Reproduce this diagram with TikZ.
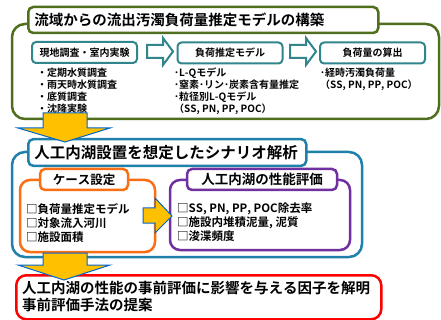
\documentclass[tikz,border=0pt]{standalone}
\usepackage{fontspec}
\setmainfont{Noto Sans CJK JP}[BoldFont={Noto Sans CJK JP Bold}, Kerning=Off]
\definecolor{cgreen}{RGB}{79,110,30}
\definecolor{cteal}{RGB}{49,133,140}
\definecolor{cblue}{RGB}{31,128,170}
\definecolor{corange}{RGB}{250,110,20}
\definecolor{cpurple}{RGB}{112,48,160}
\definecolor{cred}{RGB}{255,0,0}
\definecolor{cyellow}{RGB}{255,192,0}
\definecolor{carrowline}{RGB}{0,102,204}
\tikzset{
  outerbox/.style={draw, line width=2.5pt, rounded corners=13pt},
  titlebox/.style={draw, fill=white, line width=2.5pt, rounded corners=5pt, inner sep=6pt, align=left, anchor=west},
  subbox/.style={draw=cteal, fill=white, line width=2pt, rounded corners=4pt, minimum width=105pt, minimum height=21pt, inner sep=0pt, font=\bfseries\fontsize{10}{12}\selectfont},
  hollowarrow/.style={draw=cteal, fill=white, line width=2pt, line join=miter},
  blockarrow/.style={draw=carrowline, fill=cyellow, line width=1pt, line join=miter},
  listtext/.style={anchor=north west, inner sep=0pt, align=left, font=\bfseries\fontsize{10}{11.8}\selectfont},
  itemtext/.style={anchor=north west, inner sep=0pt, align=left, font=\bfseries\fontsize{11.5}{14}\selectfont},
}
\begin{document}
\begin{tikzpicture}[x=1pt,y=-1pt]
\useasboundingbox (0,0) rectangle (441,320);
\fill[white] (0,0) rectangle (441,320);

% --- green block ---
\draw[outerbox, draw=cgreen] (12,24) rectangle (439,119);
\node[titlebox, draw=cgreen, text width=338pt, minimum height=26pt, font=\bfseries\fontsize{14.5}{16}\selectfont] (gtitle) at (27,20) {流域からの流出汚濁負荷量推定モデルの構築};

\node[subbox] (s1) at (84.5,52.5) {現地調査・室内実験};
\node[subbox] (s2) at (230,53) {負荷推定モデル};
\node[subbox] (s3) at (372.5,53) {負荷量の算出};

\draw[hollowarrow] (147,45) -- (163,45) -- (163,38) -- (173,51.5) -- (163,65) -- (163,58) -- (147,58) -- cycle;
\draw[hollowarrow] (290,45) -- (306,45) -- (306,38) -- (316,51.5) -- (306,65) -- (306,58) -- (290,58) -- cycle;

\node[listtext] (l1) at (37,68) {・定期水質調査\\・雨天時水質調査\\・底質調査\\・沈降実験};
\node[listtext] (l2) at (174,68) {･L-Qモデル\\･窒素･リン･炭素含有量推定\\･粒径別L-Qモデル\\（SS, PN, PP, POC）};
\node[listtext] (l3) at (320,68) {･経時汚濁負荷量\\（SS, PN, PP, POC）};

% --- blue block ---
\draw[outerbox, draw=cblue] (12,152) rectangle (362,257);
\node[titlebox, draw=cblue, text width=266pt, minimum height=25pt, font=\bfseries\fontsize{15.5}{17}\selectfont] (btitle) at (27,152.5) {人工内湖設置を想定したシナリオ解析};

\draw[outerbox, draw=corange, rounded corners=10pt] (20,180) rectangle (155,252);
\node[draw=corange, fill=white, line width=2.5pt, rounded corners=5pt, minimum width=88pt, minimum height=21pt, inner sep=0pt, font=\bfseries\fontsize{12.5}{14}\selectfont] (otitle) at (84,179.5) {ケース設定};
\node[itemtext] (oitems) at (26,203) {□負荷量推定モデル\\□対象流入河川\\□施設面積};

\draw[outerbox, draw=cpurple, rounded corners=10pt] (170,180) rectangle (350,250);
\node[draw=cpurple, fill=white, line width=2.5pt, rounded corners=5pt, minimum width=150pt, minimum height=21pt, inner sep=0pt, font=\bfseries\fontsize{13.5}{15}\selectfont] (ptitle) at (262,179.5) {人工内湖の性能評価};
\node[itemtext] (pitems) at (177,203) {□SS, PN, PP, POC除去率\\□施設内堆積泥量, 泥質\\□浚渫頻度};

\draw[blockarrow] (143,208) -- (155,208) -- (155,198) -- (172,216) -- (155,233) -- (155,223) -- (143,223) -- cycle;

% --- red block ---
\node[draw=cred, line width=2.5pt, rounded corners=10pt, minimum width=365pt, minimum height=44pt, anchor=north west, inner sep=0pt] (rbox) at (15,274) {};
\node[anchor=north west, inner sep=0pt, align=left, font=\bfseries\fontsize{14.5}{17}\selectfont] (rtext) at (22,281) {人工内湖の性能の事前評価に影響を与える因子を解明\\事前評価手法の提案};

% --- big arrows ---
\draw[blockarrow] (43,113) -- (87,113) -- (87,128) -- (110,128) -- (65,142) -- (18,128) -- (43,128) -- cycle;
\draw[blockarrow] (43,253) -- (87,253) -- (87,265) -- (110,265) -- (64,280) -- (18,265) -- (43,265) -- cycle;
\end{tikzpicture}
\end{document}
